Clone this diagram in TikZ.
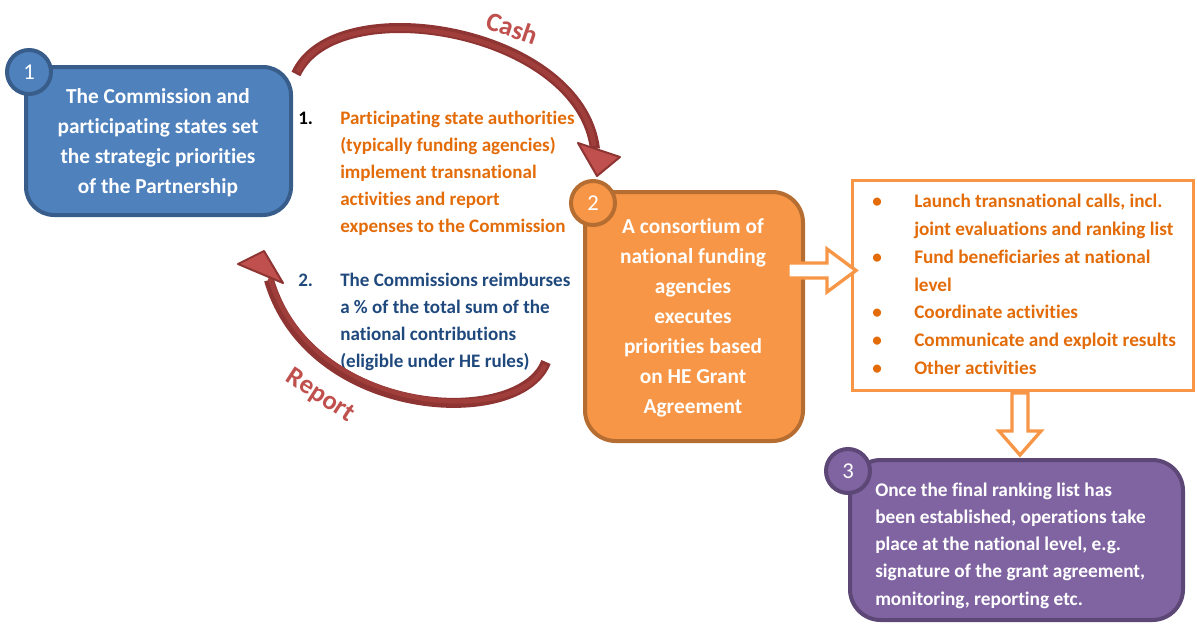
\documentclass[tikz,border=0pt]{standalone}
\usepackage{fontspec}
\setmainfont{Carlito}[Ligatures={NoCommon}]
\usetikzlibrary{calc}
\definecolor{bfill}{HTML}{4F81BD}
\definecolor{bline}{HTML}{385D8A}
\definecolor{ofill}{HTML}{F79646}
\definecolor{oline}{HTML}{B66D31}
\definecolor{pfill}{HTML}{8064A2}
\definecolor{pline}{HTML}{5C4776}
\definecolor{otext}{HTML}{E36C09}
\definecolor{btext}{HTML}{1F497D}
\definecolor{rdark}{HTML}{8E3432}
\definecolor{rlight}{HTML}{C0504D}
\definecolor{rmid}{HTML}{A03E3B}
\newcommand{\numcell}[1]{\makebox[31.5pt][l]{#1}}
\begin{document}
\begin{tikzpicture}[x=0.75pt,y=-0.75pt,
  boxstyle/.style={rectangle,line width=3pt,inner sep=0pt},
  numcirc/.style={circle,line width=3pt,minimum size=33pt,inner sep=0pt,text=white,font=\fontsize{17}{20}\selectfont},
  boxtext/.style={text=white,align=center,font=\bfseries\fontsize{16}{22.5}\selectfont},
  curvebody/.style={line width=7.5pt,draw=rdark},
  curveinner/.style={line width=3.5pt,draw=rmid},
  curvehead/.style={fill=rlight,draw=rdark,line width=1.5pt,line join=round},
  blockarrow/.style={fill=white,draw=ofill,line width=2.5pt,line join=miter},
  labeltext/.style={text=rlight,font=\bfseries\fontsize{20}{24}\selectfont}
]
\useasboundingbox (0,0) rectangle (1197,625);

% Box 1
\node[boxstyle,fill=bfill,draw=bline,rounded corners=21pt,minimum width=198.75pt,minimum height=111pt] (b1) at (158.5,141) {};
\node[boxtext] (t1) at (158,143) {The Commission and\\participating states set\\the strategic priorities\\of the Partnership};
\node[numcirc,fill=bfill,draw=bline] (c1) at (29,72) {1};

% Box 2
\node[boxstyle,fill=ofill,draw=oline,rounded corners=23pt,minimum width=163.5pt,minimum height=186.75pt] (b2) at (694,316.5) {};
\node[boxtext] (t2) at (693,318) {A consortium of\\national funding\\agencies\\executes\\priorities based\\on HE Grant\\Agreement};
\node[numcirc,fill=ofill,draw=oline] (c2) at (593,203) {2};

% Bullet box
\node[boxstyle,fill=white,draw=ofill,line width=2.5pt,minimum width=255.75pt,minimum height=157.5pt] (bl) at (1023,285.5) {};
\node[anchor=west,inner sep=0pt,text=otext,font=\bfseries\fontsize{14.4}{20.85}\selectfont] (tl) at (872,285.5) {%
\begin{tabular}{@{}l@{}l@{}}
\numcell{\textbullet} & Launch transnational calls, incl.\\
 & joint evaluations and ranking list\\
\numcell{\textbullet} & Fund beneficiaries at national\\
 & level\\
\numcell{\textbullet} & Coordinate activities\\
\numcell{\textbullet} & Communicate and exploit results\\
\numcell{\textbullet} & Other activities
\end{tabular}};

% Box 3
\node[boxstyle,fill=pfill,draw=pline,rounded corners=23pt,minimum width=249.75pt,minimum height=120pt] (b3) at (1016.5,540) {};
\node[anchor=west,inner sep=0pt,text=white,align=left,font=\bfseries\fontsize{14.5}{20.4}\selectfont] (t3) at (875,545.5) {Once the final ranking list has\\been established, operations take\\place at the national level, e.g.\\signature of the grant agreement,\\monitoring, reporting etc.};
\node[numcirc,fill=pfill,draw=pline] (c3) at (848,471) {3};

% Middle texts
\node[anchor=west,inner sep=0pt,text=otext,font=\bfseries\fontsize{14.3}{20.25}\selectfont] (m1) at (298,173.5) {%
\begin{tabular}{@{}l@{}l@{}}
\numcell{\textcolor{black}{1.}} & Participating state authorities\\
 & (typically funding agencies)\\
 & implement transnational\\
 & activities and report\\
 & expenses to the Commission
\end{tabular}};
\node[anchor=west,inner sep=0pt,text=btext,font=\bfseries\fontsize{14.3}{20.25}\selectfont] (m2) at (298,322) {%
\begin{tabular}{@{}l@{}l@{}}
\numcell{2.} & The Commissions reimburses\\
 & a \% of the total sum of the\\
 & national contributions\\
 & (eligible under HE rules)
\end{tabular}};

% Cash arrow
\coordinate (cs) at ($(b1.north east)+(3,9)$);
\coordinate (ce) at (595,149);
\draw[curvebody] (cs) .. controls (335,-12) and (580,28) .. (ce);
\draw[curveinner] ($(cs)+(2,-2)$) .. controls (335,-10) and (580,30) .. ($(ce)+(-1,-3)$);
\draw[curvehead] (578,143) -- (620,157) -- (597,176) -- cycle;
\node[labeltext,rotate=-19] (cash) at (512,28) {Cash};

% Report arrow
\coordinate (rs) at (546,362);
\coordinate (re) at (269,280);
\draw[curvebody] (rs) .. controls (520,430) and (310,420) .. (re);
\draw[curveinner] ($(rs)+(-1,3)$) .. controls (520,427) and (312,417) .. ($(re)+(1,-2)$);
\draw[curvehead] (238,264) -- (264,251) -- (283,283) -- cycle;
\node[labeltext,rotate=-33] (report) at (320,396) {Report};

% Block arrows
\draw[blockarrow] (788,263) -- (827,263) -- (827,249) -- (856,270.5) -- (827,292) -- (827,278) -- (788,278) -- cycle;
\draw[blockarrow] (1012,393) -- (1012,431) -- (999,431) -- (1020,455) -- (1041,431) -- (1028,431) -- (1028,393) -- cycle;
\end{tikzpicture}
\end{document}
